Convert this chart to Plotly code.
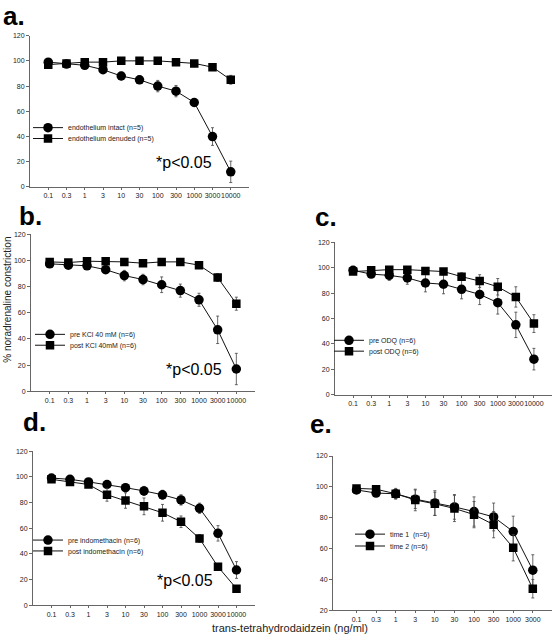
import plotly.graph_objects as go

W, H = 553, 640

doses = ["0.1", "0.3", "1", "3", "10", "30", "100", "300", "1000", "3000", "10000"]
doses_e = doses[:10]

# Panel a
a_intact = [99, 97.5, 96.5, 93, 88, 85, 80, 76, 67, 40, 12]
a_intact_err = [1, 1, 1.5, 1.5, 3, 3, 4.5, 4.5, 3, 7, 8.5]
a_denuded = [97, 98, 99, 99, 100, 100, 100, 99, 98, 95, 85]
a_denuded_err = [1, 1, 1, 1, 1, 1, 1, 1, 1, 1, 3.5]

# Panel b
b_pre = [97.5, 96.5, 96, 93, 88.5, 85.5, 81.5, 77, 70, 47, 17]
b_pre_err = [1, 1, 1, 1.5, 4, 4, 6, 5, 5, 10.5, 12]
b_post = [99, 98.5, 99.5, 99.5, 99, 98, 99, 99, 96.5, 87, 67]
b_post_err = [1, 1, 1, 1, 1, 1, 1, 1, 1, 3, 5]

# Panel c
c_pre = [98, 95, 94, 92, 88, 87, 83, 79, 72.5, 55, 28]
c_pre_err = [1, 1.5, 4, 5, 7, 7.5, 7.5, 8, 9, 10, 8.5]
c_post = [97, 98, 98.5, 98.5, 97.5, 97, 93, 89.5, 85, 77, 56]
c_post_err = [1, 1, 1, 1, 1, 1, 3, 5, 6.5, 8, 7]

# Panel d
d_pre = [99, 98, 96, 94, 91.5, 89, 86, 82, 75.5, 56, 27.5]
d_pre_err = [1, 1, 1, 2, 3, 3.5, 3.5, 4, 4, 6, 6.5]
d_post = [98, 96, 94, 86, 81.5, 77, 72, 65, 52, 30, 13]
d_post_err = [1, 1, 1, 5, 6, 6.5, 6.5, 4.5, 3, 2, 1]

# Panel e
e_t1 = [98, 96, 95.5, 92, 89.5, 87, 84, 80.5, 71, 46]
e_t1_err = [1, 2, 3, 6, 8, 8, 9.5, 9, 10, 10]
e_t2 = [99, 98.5, 95.5, 91.5, 89, 86, 82, 75.5, 60.5, 34]
e_t2_err = [1, 1, 3.5, 7, 7.5, 8.5, 8.5, 8.5, 8.5, 6]

names = {
    "a": ("endothelium intact (n=5)", "endothelium denuded (n=5)"),
    "b": ("pre KCl 40 mM (n=6)", "post KCl 40mM (n=6)"),
    "c": ("pre ODQ (n=6)", "post ODQ (n=6)"),
    "d": ("pre indomethacin (n=6)", "post indomethacin (n=6)"),
    "e": ("time 1  (n=6)", "time 2 (n=6)"),
}

def px_x(p):
    return p / W

def px_y(p):
    return 1 - p / H

# panel geometry (pixels)
panels = {
    "a": dict(l=30, r=249, yb=185, yt=32, yr=[0, 120], xr=[-1, 11], cats=doses,
              s1=a_intact, e1=a_intact_err, s2=a_denuded, e2=a_denuded_err,
              legx=28, legy=(125, 136)),
    "b": dict(l=31, r=255, yb=391.5, yt=233, yr=[0, 120], xr=[-1, 11], cats=doses,
              s1=b_pre, e1=b_pre_err, s2=b_post, e2=b_post_err,
              legx=30, legy=(334, 345)),
    "c": dict(l=335, r=552, yb=395, yt=241, yr=[0, 120], xr=[-1, 11], cats=doses,
              s1=c_pre, e1=c_pre_err, s2=c_post, e2=c_post_err,
              legx=329, legy=(340, 351)),
    "d": dict(l=33, r=255, yb=608, yt=452, yr=[0, 120], xr=[-1, 11], cats=doses,
              s1=d_pre, e1=d_pre_err, s2=d_post, e2=d_post_err,
              legx=28, legy=(542, 553)),
    "e": dict(l=333, r=552, yb=613, yt=457, yr=[20, 120], xr=[-1.2, 9.98], cats=doses_e,
              s1=e_t1, e1=e_t1_err, s2=e_t2, e2=e_t2_err,
              legx=350, legy=(536, 548)),
}

fig = go.Figure()
line_col = "#111111"
axis_col = "#666666"
err_col = "#444444"
text_col = "#222222"
font_fam = "Liberation Sans, Arial, sans-serif"

layout = {}
leg_i = 0
for i, (key, p) in enumerate(panels.items()):
    n = i + 1
    xa = "x" if n == 1 else f"x{n}"
    ya = "y" if n == 1 else f"y{n}"
    for k, (series, err, sym, size) in enumerate([
        (p["s1"], p["e1"], "circle", 9.5),
        (p["s2"], p["e2"], "square", 8.5),
    ]):
        leg_i += 1
        lg = "legend" if leg_i == 1 else f"legend{leg_i}"
        fig.add_trace(go.Scatter(
            x=p["cats"], y=series, xaxis=xa, yaxis=ya,
            mode="lines+markers", name=names[key][k], legend=lg,
            line=dict(color=line_col, width=1),
            marker=dict(symbol=sym, size=size, color="#000000"),
            error_y=dict(type="data", array=err, visible=True,
                         color=err_col, thickness=0.8, width=1.5),
        ))
        layout[lg] = dict(
            x=px_x(p["legx"]), y=px_y(p["legy"][k]), xanchor="left", yanchor="middle",
            bgcolor="rgba(0,0,0,0)", itemwidth=30, borderwidth=0,
            font=dict(size=7, color=text_col, family=font_fam),
            itemclick=False, itemdoubleclick=False,
        )
    xkey = "xaxis" if n == 1 else f"xaxis{n}"
    ykey = "yaxis" if n == 1 else f"yaxis{n}"
    layout[xkey] = dict(
        domain=[px_x(p["l"]), min(1.0, px_x(p["r"]))],
        anchor=ya, type="category", range=p["xr"], tickangle=0,
        showline=True, linecolor=axis_col, linewidth=1,
        ticks="outside", ticklen=2, tickcolor=axis_col, tickwidth=1,
        showgrid=False, zeroline=False,
        tickfont=dict(size=7, color=text_col, family=font_fam),
        fixedrange=True,
    )
    layout[ykey] = dict(
        domain=[px_y(p["yb"]), px_y(p["yt"])],
        anchor=xa, range=p["yr"], dtick=20,
        showline=True, linecolor=axis_col, linewidth=1,
        ticks="outside", ticklen=3, tickcolor=axis_col, tickwidth=1,
        showgrid=False, zeroline=False,
        tickfont=dict(size=7, color=text_col, family=font_fam),
        fixedrange=True,
    )

annotations = []
# panel letters
for txt, x, y in [("a.", 1, 12), ("b.", 17, 214), ("c.", 313, 215), ("d.", 21, 423), ("e.", 308, 425)]:
    annotations.append(dict(text=f"<b>{txt}</b>", x=px_x(x), y=px_y(y), xref="paper", yref="paper",
                            xanchor="left", yanchor="middle", showarrow=False,
                            font=dict(size=26, color="#000000", family=font_fam)))
# significance markers
for x, y in [(154, 160), (164, 370), (155, 583)]:
    annotations.append(dict(text="*p<0.05", x=px_x(x), y=px_y(y), xref="paper", yref="paper",
                            xanchor="left", yanchor="middle", showarrow=False,
                            font=dict(size=16, color="#000000", family=font_fam)))
# axis titles
annotations.append(dict(text="% noradrenaline constriction", x=px_x(8), y=px_y(299),
                        xref="paper", yref="paper", textangle=-90, showarrow=False,
                        xanchor="center", yanchor="middle",
                        font=dict(size=10, color=text_col, family=font_fam)))
annotations.append(dict(text="trans-tetrahydrodaidzein (ng/ml)", x=px_x(290), y=px_y(631),
                        xref="paper", yref="paper", showarrow=False,
                        xanchor="center", yanchor="middle",
                        font=dict(size=11, color=text_col, family=font_fam)))

fig.update_layout(
    width=W, height=H, margin=dict(l=0, r=0, t=0, b=0),
    paper_bgcolor="white", plot_bgcolor="white",
    showlegend=True, annotations=annotations,
    **layout,
)

fig.write_html(
    "out.html",
    config={"displayModeBar": False},
    post_script="document.body.style.margin='0';document.body.style.padding='0';document.body.style.overflow='hidden';",
)
